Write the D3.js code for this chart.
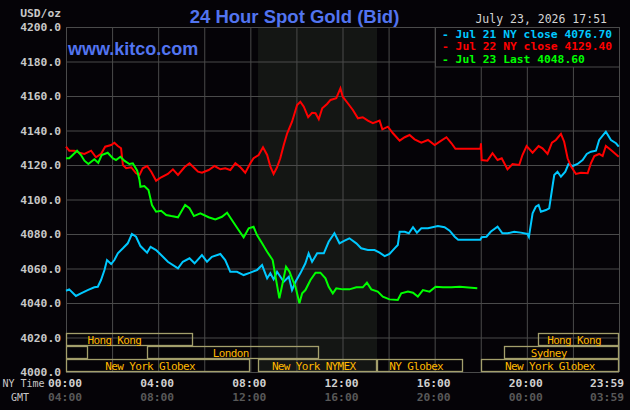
<!DOCTYPE html>
<html>
<head>
<meta charset="utf-8">
<script src="https://cdn.jsdelivr.net/npm/d3@7"></script>
<style>
  html, body { margin: 0; padding: 0; background: #050307; }
  svg { display: block; }
</style>
</head>
<body>
<div id="chart"></div>
<script>
// values: [hour of the NY day, USD/oz]
var jul21 = [[0.00,4047.1],[0.14,4047.9],[0.43,4044.1],[0.65,4045.6],[0.94,4047.5],[1.23,4049.1],[1.38,4049.4],[1.52,4053.3],[1.67,4059.1],[1.78,4064.9],[1.96,4062.6],[2.10,4064.9],[2.25,4068.8],[2.47,4071.7],[2.68,4074.6],[2.86,4080.0],[3.04,4078.4],[3.23,4073.0],[3.52,4069.2],[3.67,4072.6],[3.91,4070.7],[4.13,4067.8],[4.42,4063.9],[4.86,4060.1],[5.07,4063.9],[5.36,4065.9],[5.58,4063.0],[5.90,4067.8],[6.12,4063.9],[6.33,4066.8],[6.70,4068.4],[6.91,4064.9],[7.13,4058.1],[7.42,4058.1],[7.71,4056.2],[8.00,4057.6],[8.29,4059.1],[8.51,4062.0],[8.73,4054.3],[8.87,4057.2],[9.01,4053.7],[9.16,4058.1],[9.45,4052.3],[9.67,4055.2],[9.81,4047.5],[9.96,4052.3],[10.17,4057.2],[10.39,4063.0],[10.53,4068.8],[10.68,4063.9],[10.90,4068.8],[11.19,4068.8],[11.40,4075.5],[11.65,4080.4],[11.87,4074.6],[12.09,4076.1],[12.30,4077.5],[12.60,4074.6],[12.81,4071.7],[13.10,4070.7],[13.39,4070.7],[13.61,4069.2],[13.83,4067.2],[14.04,4068.4],[14.26,4071.7],[14.40,4073.6],[14.48,4081.3],[14.70,4081.3],[14.88,4080.4],[15.06,4083.9],[15.23,4080.8],[15.42,4083.3],[15.71,4083.3],[16.14,4084.6],[16.43,4083.9],[16.65,4081.9],[16.87,4078.4],[17.02,4076.7],[17.52,4076.7],[17.98,4076.7],[18.04,4078.1],[18.25,4078.4],[18.43,4081.3],[18.73,4084.2],[18.94,4080.4],[19.16,4080.4],[19.45,4081.3],[19.74,4080.8],[20.03,4080.0],[20.09,4078.3],[20.25,4092.0],[20.39,4095.8],[20.51,4096.8],[20.61,4092.9],[20.83,4093.9],[20.97,4094.9],[21.09,4105.5],[21.19,4114.2],[21.33,4116.1],[21.48,4113.2],[21.67,4116.1],[21.81,4120.6],[21.99,4119.4],[22.20,4120.6],[22.42,4122.9],[22.60,4126.4],[22.78,4127.7],[23.00,4128.3],[23.14,4134.5],[23.43,4139.3],[23.65,4134.5],[23.87,4132.6],[23.99,4130.6]];

var jul22 = [[0.00,4130.6],[0.14,4128.3],[0.36,4128.3],[0.58,4127.1],[0.80,4126.4],[1.09,4128.3],[1.30,4124.5],[1.52,4126.4],[1.70,4130.6],[1.96,4131.6],[2.10,4132.9],[2.25,4131.0],[2.39,4129.7],[2.47,4120.0],[2.61,4118.1],[2.83,4118.7],[3.04,4115.2],[3.19,4114.2],[3.33,4118.1],[3.52,4119.4],[3.70,4116.1],[3.91,4110.9],[4.13,4112.9],[4.42,4114.8],[4.64,4117.5],[4.86,4114.2],[5.14,4118.7],[5.36,4121.0],[5.58,4118.1],[5.73,4116.1],[5.90,4115.5],[6.19,4117.1],[6.45,4119.4],[6.70,4117.5],[6.91,4118.1],[7.13,4117.1],[7.35,4121.0],[7.57,4118.7],[7.78,4115.5],[8.00,4121.0],[8.14,4123.9],[8.36,4125.8],[8.55,4130.3],[8.73,4125.8],[8.87,4119.0],[9.01,4114.8],[9.16,4118.7],[9.30,4123.9],[9.45,4131.6],[9.60,4138.4],[9.81,4145.1],[10.03,4154.8],[10.17,4156.7],[10.32,4153.8],[10.51,4147.7],[10.68,4150.3],[10.83,4150.0],[10.97,4146.5],[11.12,4152.9],[11.33,4155.4],[11.48,4157.7],[11.73,4158.7],[11.91,4164.5],[12.01,4159.6],[12.23,4155.8],[12.45,4151.9],[12.67,4147.1],[12.88,4147.7],[13.10,4145.7],[13.32,4144.2],[13.61,4145.7],[13.73,4140.7],[13.97,4142.2],[14.19,4138.4],[14.48,4134.1],[14.70,4136.1],[14.91,4137.4],[15.13,4134.9],[15.42,4132.9],[15.71,4134.5],[16.00,4131.6],[16.22,4133.5],[16.51,4136.1],[16.73,4132.6],[16.90,4129.4],[17.52,4129.4],[17.99,4129.4],[18.01,4132.6],[18.04,4122.9],[18.29,4122.5],[18.51,4126.8],[18.73,4122.9],[18.91,4123.9],[19.16,4117.5],[19.38,4120.6],[19.67,4120.0],[19.81,4125.8],[19.99,4131.0],[20.25,4127.1],[20.51,4131.0],[20.68,4129.7],[20.90,4126.4],[21.09,4132.9],[21.26,4134.5],[21.48,4138.0],[21.62,4133.5],[21.77,4123.9],[21.91,4119.4],[22.13,4114.8],[22.35,4115.5],[22.64,4115.2],[22.78,4121.0],[22.93,4125.2],[23.14,4126.4],[23.29,4125.2],[23.43,4131.0],[23.65,4128.7],[23.99,4124.8]];

var jul23 = [[0.00,4123.9],[0.14,4123.9],[0.29,4125.8],[0.48,4128.3],[0.65,4125.8],[0.80,4122.5],[0.97,4120.6],[1.23,4123.3],[1.40,4121.3],[1.55,4125.8],[1.81,4127.1],[2.03,4123.9],[2.17,4122.9],[2.36,4124.8],[2.53,4122.5],[2.75,4120.6],[2.90,4121.0],[3.09,4116.7],[3.19,4111.3],[3.23,4107.4],[3.40,4107.8],[3.58,4105.5],[3.73,4096.8],[3.91,4092.9],[4.13,4093.5],[4.35,4091.0],[4.57,4090.4],[4.86,4089.7],[5.00,4092.9],[5.17,4096.8],[5.36,4094.9],[5.55,4090.4],[5.83,4092.0],[6.19,4089.7],[6.48,4088.5],[6.77,4090.0],[6.99,4092.3],[7.20,4088.1],[7.49,4082.3],[7.71,4078.1],[7.93,4083.3],[8.14,4084.2],[8.29,4079.4],[8.51,4074.6],[8.73,4069.7],[8.97,4064.9],[9.12,4053.3],[9.26,4042.7],[9.40,4051.4],[9.55,4061.0],[9.70,4058.1],[9.84,4053.3],[9.96,4049.4],[10.13,4039.8],[10.25,4045.6],[10.39,4047.5],[10.61,4053.3],[10.83,4057.6],[11.04,4057.6],[11.26,4054.3],[11.40,4049.4],[11.58,4045.6],[11.73,4048.5],[12.01,4047.9],[12.30,4047.9],[12.60,4049.1],[12.88,4049.1],[13.06,4051.8],[13.25,4047.9],[13.53,4046.6],[13.75,4043.7],[14.04,4042.1],[14.40,4041.7],[14.55,4045.6],[14.84,4046.6],[15.06,4046.0],[15.27,4043.7],[15.49,4047.5],[15.78,4046.6],[16.04,4049.4],[16.36,4049.1],[16.73,4049.1],[17.09,4049.4],[17.85,4048.6]];

var yTicks = [4000, 4020, 4040, 4060, 4080, 4100, 4120, 4140, 4160, 4180, 4200];
var gridHours = [0, 2, 4, 6, 8, 10, 12, 14, 16, 18, 20, 22, 24];
var labelHours = [0, 4, 8, 12, 16, 20, 24];
var nyLabels = ["00:00", "04:00", "08:00", "12:00", "16:00", "20:00", "23:59"];
var gmtLabels = ["04:00", "08:00", "12:00", "16:00", "20:00", "00:00", "03:59"];
var legendLabels = ["- Jul 21 NY close 4076.70", "- Jul 22 NY close 4129.40", "- Jul 23 Last 4048.60"];
var nymexHours = [8 + 20 / 60, 13.5];

// trading sessions: row 0 = Asia, 1 = Sydney/London, 2 = New York
var sessions = [
  {name: "Hong Kong", row: 0, start: 0, end: 5.5, label: 2.1},
  {name: "Hong Kong", row: 0, start: 20.5, end: 24, label: 22.05},
  {name: "", row: 1, start: 0, end: 0.95, label: 0},
  {name: "London", row: 1, start: 3.5, end: 11, label: 7.15},
  {name: "Sydney", row: 1, start: 19, end: 24, label: 20.95},
  {name: "New York Globex", row: 2, start: 0, end: 8, label: 3.65},
  {name: "New York NYMEX", row: 2, start: 8 + 20 / 60, end: 13.5, label: 10.75},
  {name: "NY Globex", row: 2, start: 13.5, end: 17.25, label: 15.2},
  {name: "New York Globex", row: 2, start: 18, end: 24, label: 21}
];

var w = 630;
var h = 410;
var mono = "'DejaVu Sans Mono', monospace";
var sans = "'Liberation Sans', Arial, sans-serif";
var bg = "#050307";
var gridColor = "#4a4a4a";

var xScale = d3.scaleLinear().domain([0, 24]).range([66, 619]);
var yScale = d3.scaleLinear().domain([4000, 4200]).range([372, 27]);

var svg = d3.select("#chart")
  .append("svg")
  .attr("width", w)
  .attr("height", h);

svg.append("rect")
  .attr("width", w)
  .attr("height", h)
  .attr("fill", bg);

// NYMEX trading hours shade
svg.append("rect")
  .attr("x", xScale(nymexHours[0]))
  .attr("y", yScale(4200))
  .attr("width", xScale(nymexHours[1]) - xScale(nymexHours[0]))
  .attr("height", yScale(4000) - yScale(4200))
  .attr("fill", "#141614");

// grid + y labels
var yAxis = d3.axisLeft(yScale)
  .tickValues(yTicks)
  .tickSize(-(xScale(24) - xScale(0)))
  .tickPadding(5)
  .tickFormat(d3.format(".1f"));

var gy = svg.append("g")
  .attr("transform", "translate(" + xScale(0) + ",0)")
  .call(yAxis);
gy.select(".domain").remove();
gy.selectAll("line").attr("stroke", gridColor);
gy.selectAll("text")
  .attr("fill", "#c8c8c8")
  .attr("font-family", mono)
  .attr("font-weight", "bold")
  .attr("font-size", "11.3px");

var xAxis = d3.axisBottom(xScale)
  .tickValues(gridHours)
  .tickSize(-(yScale(4000) - yScale(4200)))
  .tickFormat("");

var gx = svg.append("g")
  .attr("transform", "translate(0," + yScale(4000) + ")")
  .call(xAxis);
gx.select(".domain").remove();
gx.selectAll("line").attr("stroke", gridColor);

// session boxes
var rowTop = [333.5, 346.5, 359.5];
var sess = svg.append("g");
sess.selectAll("rect")
  .data(sessions)
  .enter()
  .append("rect")
  .attr("x", function(d) { return Math.round(xScale(d.start)) + 0.5; })
  .attr("y", function(d) { return rowTop[d.row]; })
  .attr("width", function(d) { return Math.round(xScale(d.end)) - Math.round(xScale(d.start)) - 1; })
  .attr("height", 12)
  .attr("fill", "none")
  .attr("stroke", "#a39f6c")
  .attr("stroke-width", 1.3);

sess.selectAll("text")
  .data(sessions)
  .enter()
  .append("text")
  .attr("x", function(d) { return xScale(d.label); })
  .attr("y", function(d) { return rowTop[d.row] + 10; })
  .attr("text-anchor", "middle")
  .attr("fill", "#ffb800")
  .attr("font-family", mono)
  .attr("font-size", "11px")
  .attr("letter-spacing", "-0.65px")
  .text(function(d) { return d.name; });

// price lines
var line = d3.line()
  .x(function(d) { return xScale(d[0]); })
  .y(function(d) { return yScale(d[1]); });

var seriesList = [jul21, jul22, jul23];
var colors = ["#00c8ff", "#ff0000", "#00ff00"];

svg.selectAll(".series")
  .data(seriesList)
  .enter()
  .append("path")
  .attr("class", "series")
  .attr("d", line)
  .attr("fill", "none")
  .attr("stroke", function(d, i) { return colors[i]; })
  .attr("stroke-width", 2);

// legend
svg.append("rect")
  .attr("x", 435.5)
  .attr("y", yScale(4200) + 0.5)
  .attr("width", xScale(24) - 435.5 + 0.5)
  .attr("height", 39.5)
  .attr("fill", bg)
  .attr("stroke", gridColor);

svg.selectAll(".legend")
  .data(legendLabels)
  .enter()
  .append("text")
  .attr("class", "legend")
  .attr("x", 442)
  .attr("y", function(d, i) { return 37.5 + i * 12.8; })
  .attr("fill", function(d, i) { return colors[i]; })
  .attr("font-family", mono)
  .attr("font-weight", "bold")
  .attr("font-size", "11.3px")
  .text(function(d) { return d; });

// titles
svg.append("text")
  .attr("x", 294.5)
  .attr("y", 22.5)
  .attr("text-anchor", "middle")
  .attr("fill", "#5274f0")
  .attr("font-family", sans)
  .attr("font-weight", "bold")
  .attr("font-size", "18.5px")
  .text("24 Hour Spot Gold (Bid)");

svg.append("text")
  .attr("x", 68)
  .attr("y", 55)
  .attr("fill", "#5274f0")
  .attr("font-family", sans)
  .attr("font-weight", "bold")
  .attr("font-size", "18px")
  .text("www.kitco.com");

svg.append("text")
  .attr("x", 607)
  .attr("y", 23)
  .attr("text-anchor", "end")
  .attr("fill", "#d4d4d4")
  .attr("font-family", mono)
  .attr("font-size", "11.5px")
  .text("July 23, 2026 17:51");

svg.append("text")
  .attr("x", 61)
  .attr("y", 17)
  .attr("text-anchor", "end")
  .attr("fill", "#c8c8c8")
  .attr("font-family", mono)
  .attr("font-weight", "bold")
  .attr("font-size", "11.3px")
  .text("USD/oz");

// time labels
svg.append("text")
  .attr("x", 2.5)
  .attr("y", 386.5)
  .attr("fill", "#c8c8c8")
  .attr("font-family", mono)
  .attr("font-size", "10px")
  .text("NY Time");

svg.append("text")
  .attr("x", 11)
  .attr("y", 401)
  .attr("fill", "#c8c8c8")
  .attr("font-family", mono)
  .attr("font-size", "10px")
  .text("GMT");

function timeRow(labels, yPos, color) {
  svg.append("g")
    .selectAll("text")
    .data(labels)
    .enter()
    .append("text")
    .attr("x", function(d, i) { return i == labels.length - 1 ? xScale(labelHours[i]) + 5 : xScale(labelHours[i]) - 1; })
    .attr("y", yPos)
    .attr("text-anchor", function(d, i) { return i == labels.length - 1 ? "end" : "middle"; })
    .attr("fill", color)
    .attr("font-family", mono)
    .attr("font-weight", "bold")
    .attr("font-size", "11.3px")
    .text(function(d) { return d; });
}
timeRow(nyLabels, 386.5, "#d0d0d0");
timeRow(gmtLabels, 401, "#585858");
</script>
</body>
</html>
